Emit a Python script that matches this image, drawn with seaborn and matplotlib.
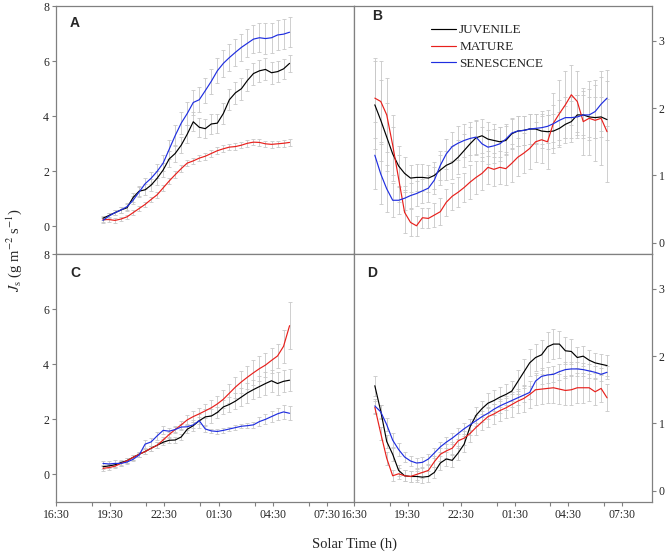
import numpy as np
import pandas as pd
import seaborn as sns
import matplotlib
matplotlib.use("Agg")
import matplotlib.pyplot as plt

# time axis: hours after 16:30, one reading every 20 min
t_left = 2.6 + np.arange(32) / 3
t_right = 7 / 6 + np.arange(40) / 3

stages = ["JUVENILE", "MATURE", "SENESCENCE"]
colors = ["black", "#e8201c", "#1f2ee0"]

tick_pos = [0, 3, 6, 9, 12, 15]
tick_labels = ["16:30", "19:30", "22:30", "01:30", "04:30", "07:30"]
minor_pos = [2, 5, 8, 11, 14]

# panel A
a_juv = [0.3, 0.4, 0.5, 0.6, 0.68, 1.05, 1.28, 1.33, 1.5, 1.75, 2.05, 2.45, 2.65, 2.95, 3.35, 3.8,
         3.6, 3.55, 3.72, 3.75, 4.1, 4.6, 4.85, 5.0, 5.3, 5.55, 5.65, 5.7, 5.58, 5.62, 5.72, 5.92]
a_mat = [0.25, 0.25, 0.22, 0.27, 0.35, 0.5, 0.65, 0.8, 0.98, 1.15, 1.4, 1.65, 1.88, 2.1, 2.3, 2.38,
         2.48, 2.55, 2.65, 2.75, 2.82, 2.88, 2.9, 2.95, 3.02, 3.06, 3.05, 3.0, 2.98, 3.0, 3.02, 3.05]
a_sen = [0.22, 0.38, 0.5, 0.6, 0.72, 0.95, 1.25, 1.55, 1.75, 2.0, 2.3, 2.8, 3.3, 3.75, 4.1, 4.5,
         4.6, 4.93, 5.27, 5.65, 5.92, 6.13, 6.32, 6.5, 6.65, 6.8, 6.85, 6.82, 6.85, 6.95, 6.98, 7.05]
a_juv_err = [0.08, 0.1, 0.1, 0.12, 0.12, 0.15, 0.18, 0.2, 0.22, 0.25, 0.25, 0.28, 0.3, 0.3, 0.32, 0.35,
             0.35, 0.35, 0.35, 0.35, 0.38, 0.38, 0.4, 0.4, 0.4, 0.4, 0.4, 0.4, 0.4, 0.38, 0.35, 0.3]
a_mat_err = [0.08, 0.08, 0.08, 0.08, 0.08, 0.08, 0.1, 0.1, 0.1, 0.1, 0.1, 0.12, 0.12, 0.12, 0.12, 0.12,
             0.12, 0.12, 0.12, 0.12, 0.12, 0.12, 0.12, 0.12, 0.12, 0.12, 0.12, 0.12, 0.12, 0.12, 0.12, 0.12]
a_sen_err = [0.08, 0.1, 0.1, 0.1, 0.12, 0.15, 0.18, 0.2, 0.22, 0.25, 0.3, 0.35, 0.38, 0.4, 0.42, 0.45,
             0.45, 0.45, 0.45, 0.45, 0.48, 0.5, 0.5, 0.5, 0.5, 0.52, 0.52, 0.55, 0.55, 0.55, 0.55, 0.55]

# panel B
b_juv = [2.05, 1.82, 1.57, 1.32, 1.14, 1.03, 0.96, 0.97, 0.97, 0.96, 1.0, 1.08, 1.15, 1.19, 1.27, 1.37,
         1.47, 1.56, 1.59, 1.54, 1.52, 1.5, 1.52, 1.62, 1.66, 1.67, 1.69, 1.69, 1.66, 1.65, 1.66, 1.7,
         1.76, 1.8, 1.9, 1.9, 1.87, 1.86, 1.87, 1.83]
b_mat = [2.15, 2.1, 1.9, 1.45, 0.95, 0.45, 0.3, 0.25, 0.37, 0.36, 0.41, 0.46, 0.6, 0.69, 0.75, 0.82,
         0.9, 0.97, 1.03, 1.12, 1.09, 1.12, 1.1, 1.18, 1.27, 1.33, 1.4, 1.5, 1.53, 1.5, 1.78, 1.92,
         2.05, 2.2, 2.1, 1.8, 1.85, 1.82, 1.85, 1.65]
b_sen = [1.3, 1.02, 0.8, 0.63, 0.63, 0.66, 0.7, 0.73, 0.77, 0.81, 0.93, 1.15, 1.32, 1.43, 1.48, 1.52,
         1.55, 1.57, 1.47, 1.42, 1.44, 1.47, 1.54, 1.63, 1.66, 1.67, 1.69, 1.7, 1.71, 1.73, 1.77, 1.82,
         1.86, 1.86, 1.87, 1.9, 1.9, 1.95, 2.06, 2.15]
b_juv_err = [0.65, 0.6, 0.5, 0.4, 0.3, 0.25, 0.2, 0.2, 0.2, 0.2, 0.2, 0.22, 0.22, 0.25, 0.25, 0.25,
             0.25, 0.25, 0.25, 0.25, 0.25, 0.22, 0.22, 0.22, 0.22, 0.22, 0.22, 0.22, 0.25, 0.25, 0.25, 0.25,
             0.28, 0.3, 0.3, 0.3, 0.3, 0.3, 0.3, 0.3]
b_mat_err = [0.6, 0.6, 0.55, 0.45, 0.35, 0.3, 0.2, 0.15, 0.15, 0.15, 0.18, 0.2, 0.2, 0.2, 0.22, 0.22,
             0.25, 0.25, 0.25, 0.25, 0.25, 0.25, 0.25, 0.28, 0.28, 0.3, 0.3, 0.3, 0.35, 0.4, 0.45, 0.5,
             0.5, 0.45, 0.45, 0.5, 0.55, 0.6, 0.7, 0.75]
b_sen_err = [0.5, 0.45, 0.35, 0.25, 0.2, 0.18, 0.18, 0.18, 0.18, 0.2, 0.2, 0.22, 0.22, 0.22, 0.25, 0.25,
             0.25, 0.25, 0.25, 0.25, 0.25, 0.25, 0.22, 0.22, 0.22, 0.22, 0.22, 0.22, 0.25, 0.25, 0.28, 0.3,
             0.3, 0.3, 0.32, 0.35, 0.38, 0.4, 0.4, 0.42]

# panel C
c_juv = [0.28, 0.31, 0.35, 0.43, 0.5, 0.62, 0.73, 0.83, 0.95, 1.06, 1.17, 1.24, 1.25, 1.36, 1.64, 1.77,
         1.95, 2.09, 2.12, 2.25, 2.45, 2.54, 2.66, 2.81, 2.96, 3.08, 3.19, 3.3, 3.4, 3.3, 3.38, 3.42]
c_mat = [0.22, 0.25, 0.3, 0.4, 0.5, 0.62, 0.73, 0.83, 0.95, 1.06, 1.25, 1.45, 1.63, 1.8, 1.98, 2.1,
         2.2, 2.31, 2.42, 2.56, 2.73, 2.95, 3.17, 3.36, 3.53, 3.69, 3.84, 3.97, 4.14, 4.3, 4.65, 5.4]
c_sen = [0.4, 0.38, 0.4, 0.4, 0.45, 0.55, 0.7, 1.1, 1.18, 1.4, 1.6, 1.57, 1.63, 1.72, 1.73, 1.8,
         1.95, 1.65, 1.58, 1.56, 1.6, 1.65, 1.7, 1.75, 1.77, 1.8, 1.92, 2.0, 2.1, 2.2, 2.27, 2.22]
c_juv_err = [0.08, 0.08, 0.08, 0.08, 0.08, 0.08, 0.08, 0.08, 0.1, 0.1, 0.1, 0.1, 0.1, 0.12, 0.15, 0.2,
             0.25, 0.3, 0.25, 0.2, 0.25, 0.28, 0.3, 0.32, 0.35, 0.35, 0.38, 0.4, 0.4, 0.4, 0.4, 0.4]
c_mat_err = [0.1, 0.1, 0.08, 0.08, 0.08, 0.08, 0.08, 0.08, 0.1, 0.1, 0.1, 0.1, 0.12, 0.15, 0.18, 0.2,
             0.22, 0.25, 0.28, 0.3, 0.32, 0.35, 0.38, 0.4, 0.42, 0.45, 0.45, 0.45, 0.45, 0.45, 0.6, 0.85]
c_sen_err = [0.1, 0.12, 0.12, 0.1, 0.08, 0.08, 0.08, 0.15, 0.15, 0.15, 0.15, 0.1, 0.1, 0.1, 0.1, 0.12,
             0.12, 0.12, 0.08, 0.08, 0.08, 0.08, 0.08, 0.08, 0.1, 0.12, 0.15, 0.18, 0.2, 0.22, 0.25, 0.25]

# panel D
d_juv = [1.56, 1.18, 0.73, 0.54, 0.3, 0.22, 0.21, 0.21, 0.2, 0.21, 0.27, 0.41, 0.47, 0.45, 0.56, 0.69,
         0.95, 1.12, 1.22, 1.3, 1.34, 1.39, 1.43, 1.48, 1.62, 1.76, 1.9, 1.98, 2.02, 2.14, 2.18, 2.18,
         2.08, 2.07, 1.98, 2.0, 1.94, 1.9, 1.88, 1.86]
d_mat = [1.24, 0.85, 0.48, 0.22, 0.25, 0.22, 0.21, 0.24, 0.27, 0.3, 0.43, 0.54, 0.59, 0.63, 0.74, 0.78,
         0.85, 0.94, 1.02, 1.1, 1.14, 1.19, 1.23, 1.28, 1.33, 1.37, 1.43, 1.5, 1.51, 1.52, 1.53, 1.51,
         1.49, 1.5, 1.53, 1.53, 1.53, 1.47, 1.52, 1.38]
d_sen = [1.26, 1.17, 0.98, 0.75, 0.61, 0.5, 0.44, 0.41, 0.42, 0.47, 0.56, 0.65, 0.72, 0.78, 0.85, 0.92,
         0.98, 1.04, 1.1, 1.15, 1.21, 1.26, 1.3, 1.34, 1.38, 1.42, 1.46, 1.63, 1.7, 1.72, 1.73, 1.77,
         1.8, 1.81, 1.81, 1.8, 1.78, 1.76, 1.73, 1.76]
d_juv_err = [0.15, 0.1, 0.1, 0.1, 0.08, 0.08, 0.08, 0.08, 0.08, 0.08, 0.08, 0.1, 0.1, 0.1, 0.1, 0.12,
             0.12, 0.12, 0.12, 0.15, 0.15, 0.15, 0.15, 0.15, 0.18, 0.2, 0.2, 0.2, 0.22, 0.22, 0.22, 0.2,
             0.2, 0.18, 0.15, 0.15, 0.15, 0.15, 0.15, 0.15]
d_mat_err = [0.1, 0.1, 0.1, 0.08, 0.08, 0.08, 0.08, 0.08, 0.08, 0.08, 0.08, 0.1, 0.1, 0.1, 0.1, 0.1,
             0.12, 0.12, 0.12, 0.15, 0.15, 0.15, 0.15, 0.18, 0.18, 0.2, 0.2, 0.22, 0.22, 0.22, 0.22, 0.22,
             0.22, 0.22, 0.22, 0.22, 0.2, 0.2, 0.2, 0.2]
d_sen_err = [0.1, 0.1, 0.1, 0.1, 0.1, 0.08, 0.08, 0.08, 0.08, 0.08, 0.08, 0.08, 0.08, 0.08, 0.08, 0.08,
             0.08, 0.08, 0.08, 0.08, 0.08, 0.1, 0.1, 0.1, 0.1, 0.1, 0.1, 0.12, 0.12, 0.12, 0.12, 0.12,
             0.12, 0.1, 0.1, 0.1, 0.1, 0.1, 0.1, 0.1]

panels = {
    "A": (t_left, [a_juv, a_mat, a_sen], [a_juv_err, a_mat_err, a_sen_err]),
    "B": (t_right, [b_juv, b_mat, b_sen], [b_juv_err, b_mat_err, b_sen_err]),
    "C": (t_left, [c_juv, c_mat, c_sen], [c_juv_err, c_mat_err, c_sen_err]),
    "D": (t_right, [d_juv, d_mat, d_sen], [d_juv_err, d_mat_err, d_sen_err]),
}

sns.set_style("ticks")
plt.rcParams["font.family"] = ["Liberation Serif", "DejaVu Serif"]
plt.rcParams["mathtext.fontset"] = "stix"

fig = plt.figure(figsize=(6.66, 5.55), dpi=100)
boxes = {
    "A": [0.0841, 0.5423, 0.4474, 0.4468],
    "B": [0.5315, 0.5423, 0.4474, 0.4468],
    "C": [0.0841, 0.0955, 0.4474, 0.4468],
    "D": [0.5315, 0.0955, 0.4474, 0.4468],
}
letter_pos = {"A": (0.045, 0.93), "B": (0.06, 0.958), "C": (0.047, 0.923), "D": (0.044, 0.923)}

for name, (t, vals, errs) in panels.items():
    ax = fig.add_axes(boxes[name])
    for v, e in zip(vals, errs):
        ax.errorbar(t, v, yerr=e, fmt="none", ecolor="#c8c8c8", elinewidth=0.6,
                    capsize=1.5, capthick=0.6, zorder=1)
    df = pd.DataFrame({
        "time": np.tile(t, 3),
        "Js": np.concatenate(vals),
        "stage": np.repeat(stages, len(t)),
    })
    sns.lineplot(data=df, x="time", y="Js", hue="stage", palette=colors,
                 linewidth=0.85, ax=ax, legend=(name == "B"), zorder=3)
    ax.set_xlabel("")
    ax.set_ylabel("")

    for sp in ax.spines.values():
        sp.set_visible(True)
        sp.set_color("#808080")
        sp.set_linewidth(0.9)
    ax.tick_params(which="both", direction="out", length=3, width=0.8,
                   color="#808080", labelsize=8.5, pad=2)

    ax.set_xticks(tick_pos)
    ax.set_xticklabels(tick_labels)
    ax.set_xticks(minor_pos, minor=True)
    if name in ("A", "C"):
        ax.set_xlim(0, 16.5)
        ax.set_ylim(-1, 8)
        ax.set_yticks([0, 2, 4, 6, 8])
    else:
        ax.set_xlim(0, 16.68)
        ax.set_ylim(-0.17, 3.52)
        ax.set_yticks([0, 1, 2, 3])
        ax.yaxis.tick_right()
    if name in ("A", "B"):
        ax.tick_params(axis="x", which="both", bottom=False, labelbottom=False)

    ax.text(*letter_pos[name], name, transform=ax.transAxes, ha="left", va="center",
            fontsize=10, fontweight="bold", family="Liberation Sans")

    if name == "B":
        sns.move_legend(ax, "upper left", bbox_to_anchor=(0.22, 0.975), frameon=False,
                        title=None, fontsize=9.5, handlelength=1.9, handletextpad=0.2,
                        labelspacing=0.35)

fig.text(0.022, 0.55, r"$J_{\mathrm{s}}$ (g m$^{-2}$ s$^{-1}$)", rotation=90,
         ha="center", va="center", fontsize=10.5)
fig.text(0.533, 0.02, "Solar Time (h)", ha="center", va="center", fontsize=10.5)

fig.savefig("out.png", dpi=100)
